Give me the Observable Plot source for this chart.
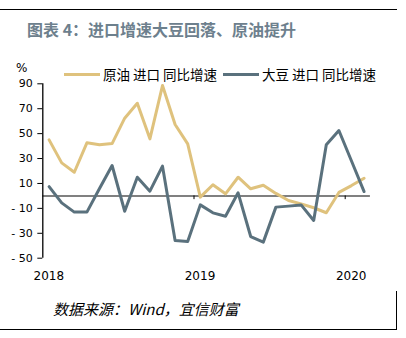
<!DOCTYPE html>
<html><head><meta charset="utf-8">
<script src="https://cdn.jsdelivr.net/npm/d3@7"></script>
<script src="https://cdn.jsdelivr.net/npm/@observablehq/plot@0.6"></script>
<style>
body{margin:0;background:#fff;}
#wrap{position:relative;width:406px;height:338px;overflow:hidden;font-family:"Noto Sans CJK SC",sans-serif;background:#fff;}
.topline{position:absolute;left:0;top:9px;width:397px;height:0;border-top:1px solid #000;}
.bottombox{position:absolute;left:0;top:291px;width:396px;height:38px;border-right:1px solid #000;border-bottom:1px solid #000;}
#title{position:absolute;left:27px;top:18px;font-size:16px;font-weight:bold;color:#6D808D;line-height:22px;white-space:nowrap;}
.leg{position:absolute;top:65px;height:18px;line-height:18px;font-size:13.5px;color:#000;white-space:nowrap;}
.leg span.sw{position:absolute;left:0;top:8px;width:36px;height:3px;}
.leg span.tx{position:absolute;left:39px;top:0;}
#pct{position:absolute;left:16px;top:61px;font-family:"DejaVu Sans",sans-serif;font-size:12px;line-height:14px;color:#000;}
#caption{position:absolute;left:53px;top:299px;font-size:15px;line-height:20px;font-style:italic;color:#000;white-space:nowrap;}
#chart{position:absolute;left:0;top:78px;}
</style>
</head><body>
<div id="wrap">
  <div class="topline"></div>
  <div class="bottombox"></div>
  <div id="title">图表 4：进口增速大豆回落、原油提升</div>
  <div class="leg" id="leg1" style="left:64px;width:160px;"><span class="sw" style="background:#DFC27D"></span><span class="tx">原油 进口 同比增速</span></div>
  <div class="leg" id="leg2" style="left:223px;width:160px;"><span class="sw" style="background:#5A717D"></span><span class="tx">大豆 进口 同比增速</span></div>
  <div id="pct">%</div>
  <div id="chart"></div>
  <div id="caption">数据来源：Wind，宜信财富</div>
</div>
<script>
const months = ["2018-01","2018-02","2018-03","2018-04","2018-05","2018-06","2018-07","2018-08","2018-09","2018-10","2018-11","2018-12",
                "2019-01","2019-02","2019-03","2019-04","2019-05","2019-06","2019-07","2019-08","2019-09","2019-10","2019-11","2019-12",
                "2020-01","2020-02"];
const oil = [45, 26.5, 19, 42.6, 41, 42, 62.4, 74.4, 45.8, 88.6, 57.3, 41.8,
             -1, 9, 1.7, 15, 5.7, 8.6, 2, -3.7, -6.4, -9.5, -13.5, 2.8, 8.3, 14.2];
const soy = [7.5, -5.6, -13, -13, 6, 24.4, -12.3, 15, 3.8, 23.9, -35.8, -36.6,
             -7.2, -13.6, -16.3, 2.5, -32.6, -37.1, -9, -8.2, -7.2, -19.7, 41, 52.5, 28, 3.5];
const yTicks = [-50, -30, -10, 10, 30, 50, 70, 90];
const yearTicks = [0, 12, 24];
const yearLabels = ["2018", "2019", "2020"];
const oilColor = "#DFC27D";
const soyColor = "#5A717D";

const oilData = months.map((m, i) => ({m, i, v: oil[i]}));
const soyData = months.map((m, i) => ({m, i, v: soy[i]}));

const chart = Plot.plot({
  width: 406, height: 212,
  marginTop: 5.3, marginBottom: 32.3, marginLeft: 42.3, marginRight: 36.1,
  style: {fontFamily: "DejaVu Sans, sans-serif", fontSize: "11px", color: "#000", background: "transparent"},
  x: {type: "linear", domain: [0, months.length]},
  y: {domain: [-50, 90]},
  marks: [
    Plot.axisY({ticks: yTicks, tickSize: 5, tickPadding: 5, tickFormat: d => d < 0 ? "- " + (-d) : String(d), label: null, stroke: "#000"}),
    Plot.axisX({ticks: yearTicks, tickSize: 0, tickPadding: 13, dx: 6, fontSize: 12, tickFormat: d => yearLabels[yearTicks.indexOf(d)], label: null}),
    Plot.ruleY([0], {stroke: "#808080", strokeWidth: 2}),
    Plot.ruleX([0], {stroke: "#000", strokeWidth: 1.3}),
    Plot.ruleX(yearTicks.slice(1), {y1: 0, y2: -3, stroke: "#000", strokeWidth: 1}),
    Plot.line(oilData, {x: d => d.i + 0.5, y: "v", stroke: oilColor, strokeWidth: 3}),
    Plot.line(soyData, {x: d => d.i + 0.5, y: "v", stroke: soyColor, strokeWidth: 3})
  ]
});
document.getElementById("chart").appendChild(chart);
</script>
</body></html>
